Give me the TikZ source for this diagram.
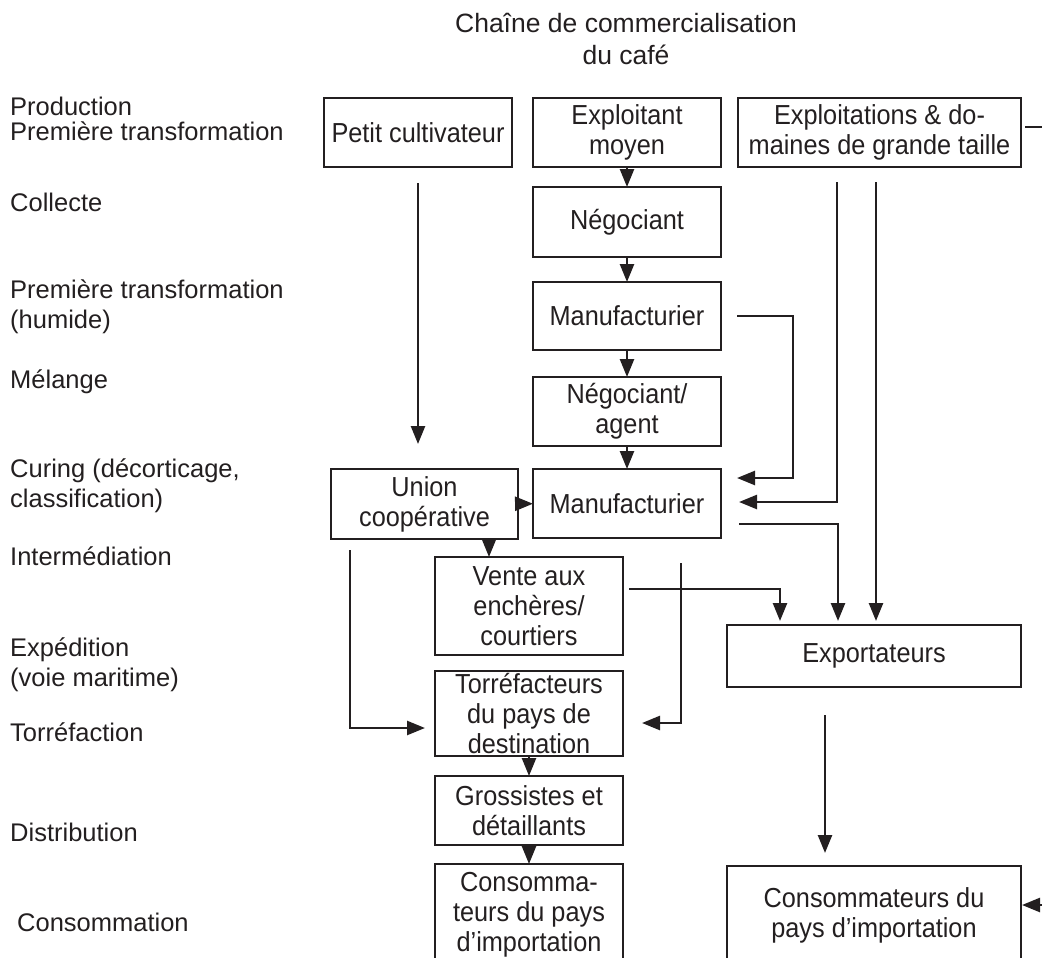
\documentclass[tikz,border=0pt]{standalone}
\usepackage{fontspec}
\setmainfont{Liberation Sans}
\newfontfamily\boxfont{Liberation Sans}[FakeStretch=0.92]
\usetikzlibrary{arrows.meta}
\definecolor{ink}{HTML}{231F20}
\begin{document}
\begin{tikzpicture}[x=1pt,y=-1pt,
  box/.style={draw=ink, line width=2.7pt, inner sep=0pt, outer sep=0pt, align=center,
    font=\boxfont\fontsize{27.5}{30}\selectfont, text=ink},
  lab/.style={anchor=base west, inner sep=0pt, font=\fontsize{25.5}{30}\selectfont, text=ink},
  ttl/.style={anchor=base, inner sep=0pt, font=\fontsize{26.5}{32}\selectfont, text=ink},
  conn/.style={draw=ink, line width=2.5pt, -{Triangle[length=18pt,width=14pt]}},
  plain/.style={draw=ink, line width=2.5pt}
]
\useasboundingbox (0,0) rectangle (1042,958);

% title
\node[ttl] (t1) at (626,33) {Chaîne de commercialisation};
\node[ttl] (t2) at (626,65) {du café};

% stage labels
\node[lab] (l1) at (10,115) {Production};
\node[lab] (l2) at (10,140) {Première transformation};
\node[lab] (l3) at (10,211) {Collecte};
\node[lab] (l4) at (10,298) {Première transformation};
\node[lab] (l5) at (10,328) {(humide)};
\node[lab] (l6) at (10,388) {Mélange};
\node[lab] (l7) at (10,477) {Curing (décorticage,};
\node[lab] (l8) at (10,507) {classification)};
\node[lab] (l9) at (10,565) {Intermédiation};
\node[lab] (l10) at (10,656) {Expédition};
\node[lab] (l11) at (10,686) {(voie maritime)};
\node[lab] (l12) at (10,741) {Torréfaction};
\node[lab] (l13) at (10,841) {Distribution};
\node[lab] (l14) at (17,931) {Consommation};

% boxes
\node[box, minimum width=188pt, minimum height=69pt] (pc) at (418,132.5) {Petit cultivateur};
\node[box, minimum width=188pt, minimum height=69pt] (em) at (627,132.5) {Exploitant\\moyen};
\node[box, minimum width=283pt, minimum height=69pt] (eg) at (879.5,132.5) {Exploitations \& do-\\maines de grande taille};
\node[box, minimum width=188pt, minimum height=70pt] (neg) at (627,222) {Négociant};
\node[box, minimum width=188pt, minimum height=68pt] (man1) at (627,316) {Manufacturier};
\node[box, minimum width=188pt, minimum height=69pt] (nag) at (627,411.5) {Négociant/\\agent};
\node[box, minimum width=188pt, minimum height=69pt] (man2) at (627,503.5) {Manufacturier};
\node[box, minimum width=187pt, minimum height=70pt] (un) at (424.5,504) {Union\\coopérative};
\node[box, minimum width=188pt, minimum height=98pt] (ve) at (529,606) {Vente aux\\enchères/\\courtiers};
\node[box, minimum width=188pt, minimum height=85pt] (tor) at (529,713.5) {Torréfacteurs\\du pays de\\destination};
\node[box, minimum width=188pt, minimum height=69pt] (gro) at (529,810.5) {Grossistes et\\détaillants};
\node[box, minimum width=188pt, minimum height=101pt] (consL) at (529,914.5) {Consomma-\\teurs du pays\\d’importation};
\node[box, minimum width=294pt, minimum height=62pt] (exp) at (874,656) {Exportateurs};
\node[box, minimum width=294pt, minimum height=99pt] (consR) at (874,915.5) {Consommateurs du\\pays d’importation};

% free ends
\coordinate (fz) at (681,563);
\coordinate (edgeA) at (1043,127);
\coordinate (edgeB) at (1043,905);

% connectors
\draw[conn] (em) -- (neg);
\draw[conn] (neg) -- (man1);
\draw[conn] (man1) -- (nag);
\draw[conn] (nag) -- (man2);
\draw[conn, shorten <=16pt, shorten >=25pt] (pc.south) -- (pc.south |- un.north);
\draw[conn] ([xshift=16pt]man1.east) -- (793,316) -- (793,478) -- ([xshift=16pt,yshift=25.5pt]man2.east);
\draw[conn] ([xshift=-42.5pt,yshift=-15pt]eg.south) |- ([xshift=18pt,yshift=1.5pt]man2.east);
\draw[conn] ([xshift=-3.5pt,yshift=-15pt]eg.south) -- ([xshift=2pt,yshift=4pt]exp.north);
\draw[conn] (un) -- (man2);
\draw[conn] ([xshift=64.5pt]un.south) -- ([xshift=-40pt]ve.north);
\draw[conn] ([xshift=-74.5pt,yshift=-11pt]un.south) |- ([xshift=-10pt,yshift=-14.5pt]tor.west);
\draw[conn] ([xshift=6pt,yshift=17pt]ve.east) -| ([xshift=-94pt,yshift=4pt]exp.north);
\draw[conn] (fz) |- ([xshift=19pt,yshift=-9.5pt]tor.east);
\draw[conn] ([xshift=18pt,yshift=-20.5pt]man2.east) -| ([xshift=-36pt,yshift=4pt]exp.north);
\draw[conn] ([xshift=-49pt,yshift=-28pt]exp.south) -- ([xshift=-49pt,yshift=13pt]consR.north);
\draw[conn] (tor) -- (gro);
\draw[conn] (gro) -- (consL);
\draw[plain] ([xshift=4pt,yshift=5.5pt]eg.east) -- (edgeA);
\draw[conn] (edgeB) -- ([xshift=1pt,yshift=10.5pt]consR.east);
\end{tikzpicture}
\end{document}
